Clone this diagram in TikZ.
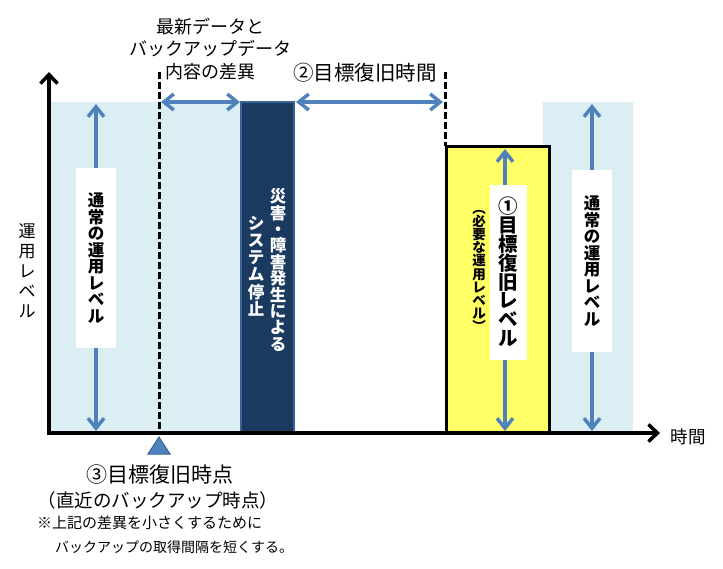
\documentclass[tikz,border=0pt]{standalone}
\usepackage{fontspec}
\newfontfamily\jp{Noto Sans CJK JP}
\usetikzlibrary{arrows.meta}
\definecolor{lblue}{HTML}{DAEEF3}
\definecolor{navy}{HTML}{1B3A5F}
\definecolor{navyedge}{HTML}{3A6294}
\definecolor{ablue}{HTML}{4F81BD}
\definecolor{yel}{HTML}{FFFF66}
\tikzset{
  axisline/.style={line width=3.5pt, -{Straight Barb[length=9pt,width=17pt]}},
  dimarrow/.style={ablue, line width=3.5pt, {Straight Barb[length=10pt,width=16pt]}-{Straight Barb[length=10pt,width=16pt]}},
  guide/.style={line width=3pt, dash pattern=on 7pt off 3pt},
  jpt/.style={inner sep=0pt, font=\jp\fontsize{#1}{#1}\selectfont},
  vlab/.style 2 args={inner sep=0pt, align=center, font=\jp\bfseries\fontsize{#1}{#2}\selectfont},
  wbox/.style={fill=white, inner sep=0pt, minimum width=40pt},
}
\begin{document}
\begin{tikzpicture}[x=1pt,y=-1pt]
\useasboundingbox (0,0) rectangle (723,568);
% regions
\fill[lblue] (49,102) rectangle (241,433);
\fill[lblue] (543,102) rectangle (633,433);
\draw[line width=3pt, fill=yel] (446,146) rectangle (549,433);
\draw[navyedge, line width=2pt, fill=navy] (241,102) rectangle (294,433);
% guides
\coordinate (d1top) at (159,72);
\coordinate (d1bot) at (159,433);
\coordinate (d2top) at (445,72);
\coordinate (d2bot) at (445,146);
\draw[guide] (d1top) -- (d1bot);
\draw[guide] (d2top) -- (d2bot);
% horizontal dimension arrows
\coordinate (a1l) at (161,102);
\coordinate (a1r) at (240,102);
\coordinate (a2l) at (296,102);
\coordinate (a2r) at (443,102);
\draw[dimarrow] (a1l) -- (a1r);
\draw[dimarrow] (a2l) -- (a2r);
% vertical arrows
\coordinate (vl1) at (96,104);
\coordinate (vl2) at (96,431);
\coordinate (vr1) at (592,104);
\coordinate (vr2) at (592,431);
\coordinate (vy1) at (505,149);
\coordinate (vy2) at (505,431);
\draw[dimarrow] (vl1) -- (vl2);
\draw[dimarrow] (vr1) -- (vr2);
\draw[dimarrow] (vy1) -- (vy2);
% white label boxes
\node[wbox, minimum height=180pt, vlab={16.5}{16.5}] (lnorm) at (96,258)
  {通\\常\\の\\運\\用\\レ\\ベ\\ル};
\node[wbox, minimum height=182pt, vlab={16.5}{16.5}] (rnorm) at (592,261)
  {通\\常\\の\\運\\用\\レ\\ベ\\ル};
\node[wbox, minimum width=37pt, minimum height=175pt, vlab={19.5}{18.8}] (target) at (508,272)
  {①\\目\\標\\復\\旧\\レ\\ベ\\ル};
\node[vlab={13.5}{13.2}] (need) at (479,271)
  {︵\\必\\要\\な\\運\\用\\レ\\ベ\\ル\\︶};
% disaster bar texts
\node[vlab={16.5}{16.4}, text=white] (dis1) at (278,270)
  {災\\害\\・\\障\\害\\発\\生\\に\\よ\\る};
\node[vlab={16.5}{17.2}, text=white] (dis2) at (256,266)
  {シ\\ス\\テ\\ム\\停\\止};
% axes
\coordinate (ybase) at (49,435);
\coordinate (ytip) at (49,72);
\coordinate (xbase) at (47,433);
\coordinate (xtip) at (660,433);
\draw[axisline] (ybase) -- (ytip);
\draw[axisline] (xbase) -- (xtip);
\node[jpt=17.5] (tlab) at (688,437) {時間};
\node[inner sep=0pt, align=center, font=\jp\fontsize{17}{20}\selectfont] (ylab) at (27,271)
  {運\\用\\レ\\ベ\\ル};
% top texts
\node[jpt=18] (top1) at (210,27) {最新データと};
\node[jpt=18] (top2) at (210,49) {バックアップデータ};
\node[jpt=18] (top3) at (210,72) {内容の差異};
\node[jpt=20.5] (rto) at (365,73) {②目標復旧時間};
% bottom marker and texts
\coordinate (tri) at (159,437);
\filldraw[fill=ablue, draw=navyedge, line width=1pt] (tri) -- (170,454) -- (148,454) -- cycle;
\node[jpt=21] (rpo) at (160,475) {③目標復旧時点};
\node[jpt=18.5] (rpo2) at (158,500) {（直近のバックアップ時点）};
\node[jpt=15, anchor=west] (note1) at (37,523) {※上記の差異を小さくするために};
\node[jpt=14, anchor=west] (note2) at (55,547) {バックアップの取得間隔を短くする。};
\end{tikzpicture}
\end{document}
